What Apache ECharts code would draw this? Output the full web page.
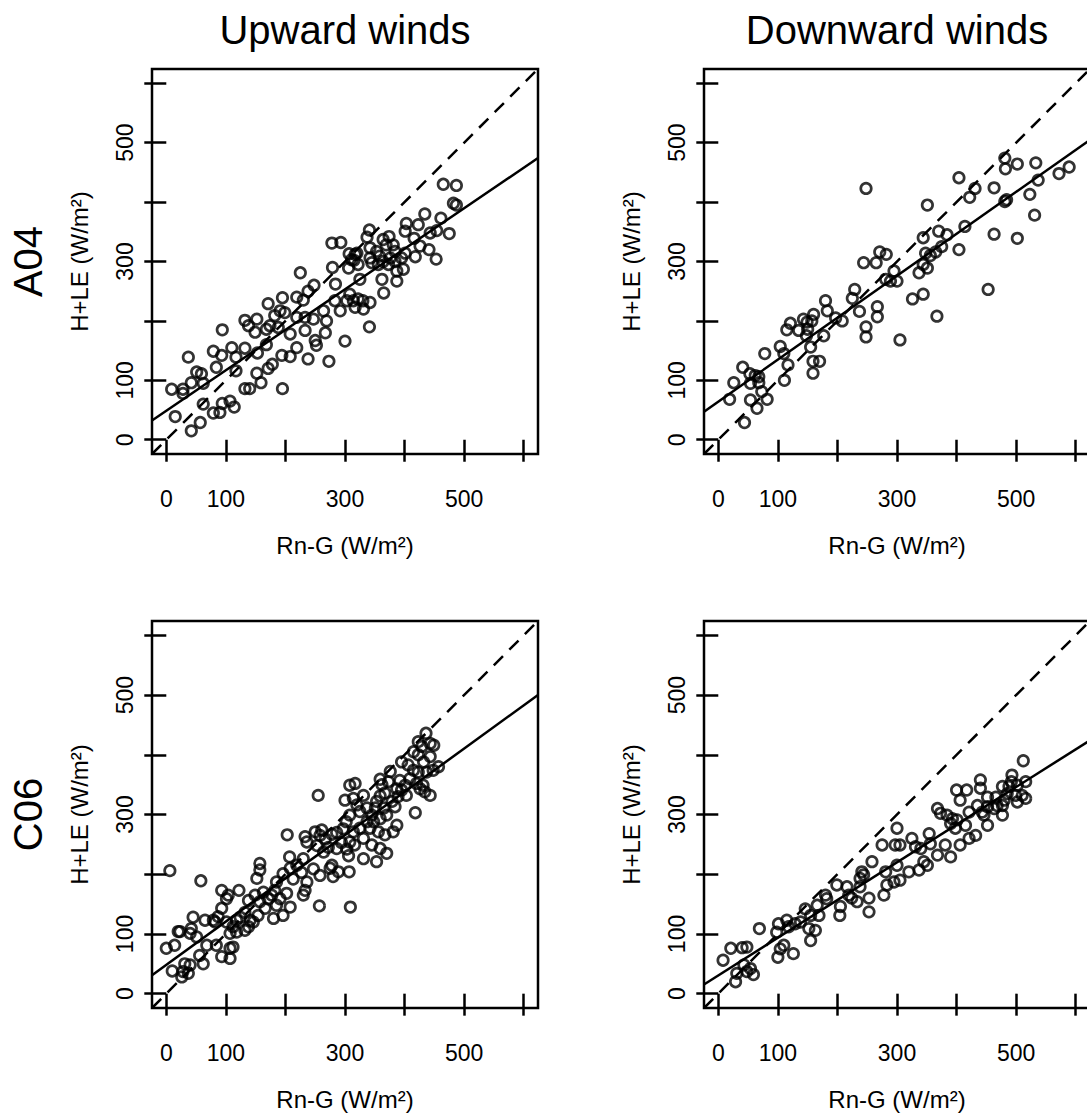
<!DOCTYPE html>
<html>
<head>
<meta charset="utf-8">
<script src="https://cdn.jsdelivr.net/npm/echarts@6/dist/echarts.min.js"></script>
<style>
  html, body { margin: 0; padding: 0; background: #fff; }
  #chart { width: 1087px; height: 1115px; }
</style>
</head>
<body>
<div id="chart"></div>
<script>
// Labels
const columnTitles = ['Upward winds', 'Downward winds'];
const rowTitles = ['A04', 'C06'];
const xAxisTitle = 'Rn-G (W/m²)';
const yAxisTitle = 'H+LE (W/m²)';

// Axis ticks (both axes share them)
const tickValues = [0, 100, 200, 300, 400, 500, 600];
const tickLabels = [0, 100, 300, 500];

// Observations: [Rn-G, H+LE] in W/m²
const a04Up = [
  [278,331],[293,332],[307,313],[279,290],[284,262],[225,281],[248,260],[238,250],[171,229],[195,239],
  [219,240],[230,235],[132,201],[152,203],[138,192],[94,185],[191,217],[199,214],[182,209],[174,192],
  [188,189],[168,186],[149,181],[208,178],[219,206],[233,206],[247,203],[264,217],[269,200],[283,234],
  [292,217],[303,234],[233,184],[250,167],[252,159],[267,180],[300,166],[79,149],[93,142],[110,155],
  [132,154],[117,139],[153,146],[168,160],[37,139],[84,122],[117,116],[152,112],[171,120],[178,127],
  [51,114],[59,111],[42,96],[62,95],[28,85],[9,85],[28,78],[194,142],[208,140],[219,155],
  [238,136],[273,132],[132,86],[140,86],[159,96],[195,86],[62,60],[79,45],[90,46],[94,61],
  [107,65],[114,55],[15,39],[57,29],[42,15],
  [465,430],[487,428],[482,398],[487,395],[461,373],[434,380],[403,364],[423,362],[443,348],[454,352],
  [475,347],[341,353],[337,341],[364,337],[374,342],[401,351],[416,339],[426,326],[441,320],[418,308],
  [453,304],[381,328],[384,317],[376,306],[384,300],[395,306],[401,314],[373,295],[387,284],[398,287],
  [387,267],[362,270],[365,247],[342,323],[345,298],[342,306],[317,312],[311,303],[322,295],[325,270],
  [306,289],[308,245],[314,234],[322,237],[330,234],[342,231],[331,220],[317,223],[341,190],
  [353,317],[358,309],[364,300],[356,295],[369,328],[320,314],[315,302]
];
const a04Down = [
  [248,423],[244,298],[265,298],[271,316],[282,312],[295,284],[289,267],[300,267],[281,270],[229,253],
  [225,238],[237,216],[267,224],[267,207],[248,190],[248,173],[305,168],[180,234],[183,217],[197,205],
  [208,200],[160,211],[143,203],[149,198],[157,200],[135,184],[150,186],[148,175],[155,156],[177,175],
  [121,196],[115,185],[104,157],[110,145],[117,126],[159,132],[170,132],[159,112],[78,145],[111,100],
  [41,122],[53,111],[62,108],[68,106],[54,95],[68,96],[26,96],[73,81],[82,68],[54,67],
  [65,53],[19,68],[44,29],
  [351,395],[404,441],[431,423],[422,408],[463,424],[481,474],[482,456],[502,464],[533,466],[481,401],
  [484,404],[523,413],[537,437],[531,378],[572,448],[589,459],[463,346],[502,339],[453,253],[414,359],
  [404,320],[384,345],[370,351],[375,325],[365,316],[356,310],[344,340],[348,314],[351,289],[337,281],
  [344,295],[344,245],[326,237],[367,208]
];
const c06Up = [
  [255,332],[300,324],[308,349],[203,266],[233,263],[236,254],[250,271],[261,274],[258,265],[253,248],
  [267,259],[272,245],[264,237],[278,267],[286,270],[297,276],[294,253],[303,242],[306,231],[207,229],
  [230,226],[219,215],[208,210],[196,201],[213,192],[227,203],[236,187],[247,209],[258,198],[278,215],
  [280,196],[289,204],[307,204],[157,218],[152,193],[157,207],[185,187],[182,173],[177,165],[191,159],
  [185,148],[202,168],[208,145],[196,131],[180,126],[230,165],[233,173],[257,147],[309,145],[163,170],
  [171,159],[149,165],[138,156],[157,154],[166,143],[154,131],[146,120],[138,112],[141,123],[124,128],
  [132,136],[118,123],[112,112],[101,120],[118,103],[132,106],[107,101],[122,173],[93,173],[101,159],
  [104,165],[93,143],[87,129],[82,120],[58,189],[6,206],[45,128],[65,123],[79,123],[42,109],
  [51,95],[20,104],[40,101],[84,81],[68,81],[56,64],[62,50],[107,76],[112,78],[107,59],
  [93,62],[0,76],[14,81],[23,104],[10,38],[26,28],[31,50],[40,48],[37,34],[28,37],
  [436,436],[423,422],[443,419],[429,414],[415,405],[423,400],[432,388],[443,397],[449,416],[395,388],
  [406,383],[415,374],[409,360],[401,349],[392,357],[387,343],[395,341],[389,330],[403,332],[420,352],
  [431,349],[434,338],[443,332],[423,371],[437,371],[448,374],[457,380],[426,343],[376,372],[373,355],
  [362,350],[367,336],[359,331],[353,322],[351,311],[365,311],[379,322],[384,313],[370,299],[359,293],
  [387,282],[381,271],[367,266],[356,271],[342,277],[348,288],[345,299],[337,311],[325,305],[320,316],
  [314,327],[317,352],[359,359],[331,332],[418,303],[308,299],[302,288],[314,271],[325,277],
  [337,288],[308,254],[316,249],[331,260],[345,249],[331,226],[353,221],[370,235],[359,243],
  [286,243],[275,210]
];
const c06Down = [
  [300,277],[297,249],[305,249],[275,249],[258,221],[281,204],[300,215],[295,187],[305,190],[278,165],
  [283,182],[241,204],[238,193],[244,199],[238,179],[233,154],[224,160],[253,160],[253,137],[216,179],
  [219,165],[199,182],[205,146],[204,131],[180,165],[182,159],[166,148],[169,131],[146,142],[155,131],
  [152,109],[163,106],[155,89],[138,120],[129,117],[115,123],[118,112],[101,117],[98,103],[110,81],
  [104,75],[100,61],[126,67],[69,109],[8,56],[21,76],[40,77],[48,78],[31,34],[48,37],
  [59,32],[54,42],[43,48],[29,20],
  [512,390],[493,366],[492,355],[488,347],[477,347],[502,349],[516,355],[510,332],[516,327],[499,332],
  [502,321],[485,335],[480,324],[466,329],[468,315],[463,310],[477,299],[477,315],[452,313],[452,329],
  [443,304],[440,358],[440,344],[452,282],[435,315],[446,299],[400,341],[417,341],[406,324],[421,304],
  [415,282],[406,249],[421,260],[432,265],[368,310],[373,302],[384,299],[393,293],[390,285],[401,291],
  [398,277],[354,268],[356,251],[381,249],[368,232],[390,229],[345,221],[351,215],[337,207],[320,204],
  [325,260],[331,246],[340,243]
];

// Least-squares fits (intercept, slope) per panel, order: A04 up, A04 down, C06 up, C06 down
const fitIntercept = [48.6, 64.2, 48.4, 30.5];
const fitSlope = [0.682, 0.706, 0.724, 0.631];

const panelData = [a04Up, a04Down, c06Up, c06Down];

// Layout of the 2x2 panels
const FONT = "'Liberation Sans', Arial, Helvetica, sans-serif";
const AX_MIN = -24, AX_MAX = 624;
const colLeft = [152, 704];
const rowTop = [69, 621];
const rowHeight = [385, 387];
const plotWidth = 386;

const grids = [], xAxes = [], yAxes = [], series = [];

panelData.forEach((pts, i) => {
  const row = Math.floor(i / 2), col = i % 2;
  grids.push({
    left: colLeft[col], top: rowTop[row], width: plotWidth, height: rowHeight[row],
    show: true, borderColor: '#000', borderWidth: 2.5, backgroundColor: 'transparent',
    containLabel: false, outerBoundsMode: 'none'
  });
  const tick = { show: true, inside: false, length: 22, customValues: tickValues,
                 lineStyle: { color: '#000', width: 2.5 } };
  xAxes.push({
    type: 'value', gridIndex: i, min: AX_MIN, max: AX_MAX,
    axisLine: { show: false }, splitLine: { show: false },
    axisTick: tick,
    axisLabel: { customValues: tickLabels, color: '#000', fontSize: 23, fontFamily: FONT, margin: 33 },
    name: xAxisTitle, nameLocation: 'middle', nameGap: 79,
    nameTextStyle: { color: '#000', fontSize: 24, fontFamily: FONT }
  });
  yAxes.push({
    type: 'value', gridIndex: i, min: AX_MIN, max: AX_MAX,
    axisLine: { show: false }, splitLine: { show: false },
    axisTick: tick,
    axisLabel: { customValues: tickLabels, color: '#000', fontSize: 23, fontFamily: FONT, margin: 16, rotate: 90 },
    name: yAxisTitle, nameLocation: 'middle', nameGap: 61,
    nameTextStyle: { color: '#000', fontSize: 24, fontFamily: FONT }
  });
  // observed points
  series.push({
    type: 'scatter', xAxisIndex: i, yAxisIndex: i, data: pts,
    symbol: 'circle', symbolSize: 10.5, clip: true, silent: true,
    itemStyle: { color: 'rgba(0,0,0,0)', borderColor: '#000', borderWidth: 2.7 }
  });
  // 1:1 reference line
  series.push({
    type: 'line', xAxisIndex: i, yAxisIndex: i, symbol: 'none', clip: true, silent: true,
    data: [[AX_MIN, AX_MIN], [AX_MAX, AX_MAX]],
    lineStyle: { color: '#000', width: 2.5, type: [13, 9] }
  });
  // fitted regression line
  series.push({
    type: 'line', xAxisIndex: i, yAxisIndex: i, symbol: 'none', clip: true, silent: true,
    data: [[AX_MIN, fitIntercept[i] + fitSlope[i] * AX_MIN],
           [AX_MAX, fitIntercept[i] + fitSlope[i] * AX_MAX]],
    lineStyle: { color: '#000', width: 2.5 }
  });
});

function label(text, x, y, size, rotation) {
  return {
    type: 'text', x: x, y: y, rotation: rotation || 0,
    style: { text: text, fill: '#000', fontSize: size, fontFamily: FONT,
             align: 'center', verticalAlign: 'middle',
             textAlign: 'center', textVerticalAlign: 'middle' }
  };
}

const graphics = [
  label(columnTitles[0], colLeft[0] + plotWidth / 2, 30, 40),
  label(columnTitles[1], colLeft[1] + plotWidth / 2, 30, 40),
  label(rowTitles[0], 28, rowTop[0] + rowHeight[0] / 2, 40, Math.PI / 2),
  label(rowTitles[1], 28, rowTop[1] + rowHeight[1] / 2, 40, Math.PI / 2)
];

const chart = echarts.init(document.getElementById('chart'), null, { renderer: 'svg' });
chart.setOption({
  animation: false,
  backgroundColor: '#fff',
  textStyle: { fontFamily: FONT },
  grid: grids,
  xAxis: xAxes,
  yAxis: yAxes,
  series: series,
  graphic: graphics
});
</script>
</body>
</html>
